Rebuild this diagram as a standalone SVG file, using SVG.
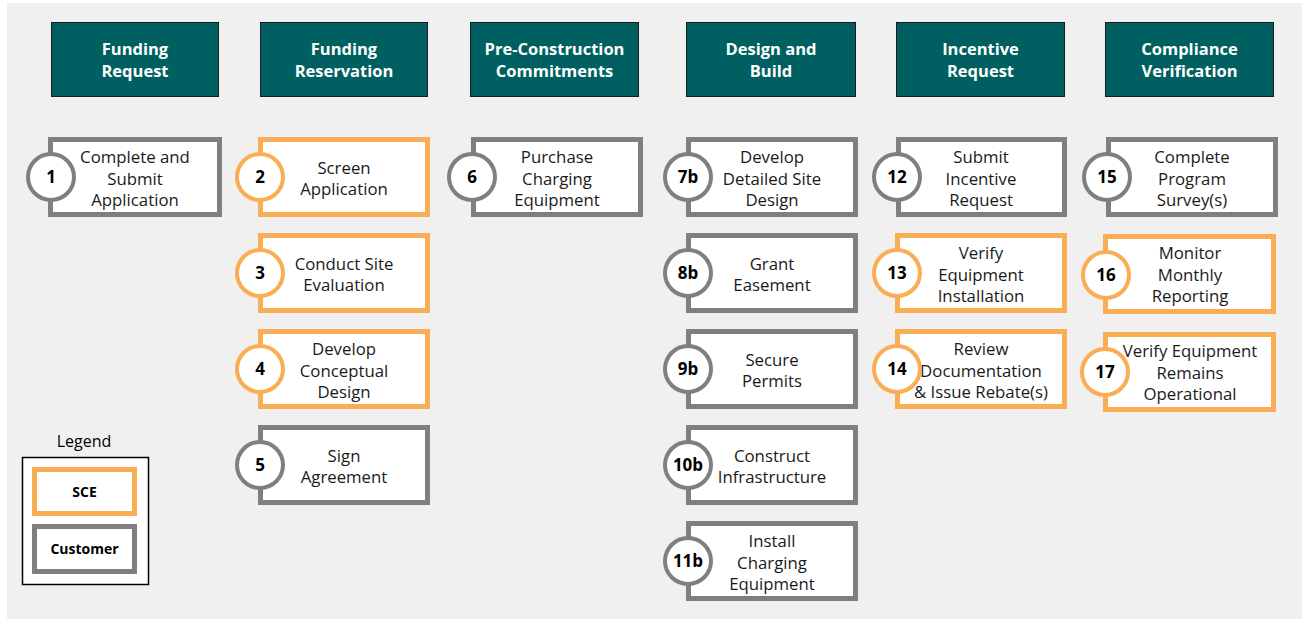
<svg xmlns="http://www.w3.org/2000/svg" width="1302" height="619" viewBox="0 0 1302 619">
  <style>
    .bg { fill: #f0f0f0; }
    .hdr rect { fill: #005f60; stroke: #1a1a1a; stroke-width: 1; }
    .hdr text { fill: #ffffff; font-family: "Open Sans", "Noto Sans", sans-serif; font-weight: 700; font-size: 16.5px; text-anchor: middle; }
    .step rect { fill: #ffffff; stroke-width: 5; }
    .step circle { fill: #ffffff; stroke-width: 4; }
    .step text { fill: #1a1a1a; font-family: "Open Sans", "Noto Sans", sans-serif; font-size: 16.8px; text-anchor: middle; }
    .step text.num { font-weight: 700; font-size: 17px; fill: #000000; }
    .sce rect, .sce circle { stroke: #f9ad55; }
    .cust rect, .cust circle { stroke: #7f7f7f; }
    .legend text { font-family: "Open Sans", "Noto Sans", sans-serif; text-anchor: middle; fill: #000000; }
  </style>

  <rect class="bg" x="7" y="3" width="1295" height="616"/>

  <!-- phase headers -->
  <g id="hdr-funding-request" class="hdr"><rect x="51.5" y="22.5" width="167" height="74"/><text x="135" y="55">Funding</text><text x="135" y="77">Request</text></g>
  <g id="hdr-funding-reservation" class="hdr"><rect x="260.5" y="22.5" width="167" height="74"/><text x="344" y="55">Funding</text><text x="344" y="77">Reservation</text></g>
  <g id="hdr-pre-construction" class="hdr"><rect x="470.5" y="22.5" width="168" height="74"/><text x="554.5" y="55">Pre-Construction</text><text x="554.5" y="77">Commitments</text></g>
  <g id="hdr-design-build" class="hdr"><rect x="686.5" y="22.5" width="169" height="74"/><text x="771" y="55">Design and</text><text x="771" y="77">Build</text></g>
  <g id="hdr-incentive" class="hdr"><rect x="896.5" y="22.5" width="168" height="74"/><text x="980.5" y="55">Incentive</text><text x="980.5" y="77">Request</text></g>
  <g id="hdr-compliance" class="hdr"><rect x="1105.5" y="22.5" width="168" height="74"/><text x="1189.5" y="55">Compliance</text><text x="1189.5" y="77">Verification</text></g>

  <!-- process steps: box, label, then badge drawn on top -->
  <g id="step-1" class="step cust"><rect x="50.5" y="139.5" width="169" height="75"/><text x="135" y="163">Complete and</text><text x="135" y="184.5">Submit</text><text x="135" y="206">Application</text><circle cx="51" cy="177" r="23"/><text class="num" x="51" y="183">1</text></g>

  <g id="step-2" class="step sce"><rect x="260.5" y="139.5" width="167" height="75"/><text x="344" y="174">Screen</text><text x="344" y="195">Application</text><circle cx="260" cy="177" r="23"/><text class="num" x="260" y="183">2</text></g>
  <g id="step-3" class="step sce"><rect x="260.5" y="235.5" width="167" height="75"/><text x="344" y="270">Conduct Site</text><text x="344" y="291">Evaluation</text><circle cx="260" cy="273" r="23"/><text class="num" x="260" y="279">3</text></g>
  <g id="step-4" class="step sce"><rect x="260.5" y="331.5" width="167" height="75"/><text x="344" y="355">Develop</text><text x="344" y="376.5">Conceptual</text><text x="344" y="398">Design</text><circle cx="260" cy="369" r="23"/><text class="num" x="260" y="375">4</text></g>
  <g id="step-5" class="step cust"><rect x="260.5" y="427.5" width="167" height="75"/><text x="344" y="462">Sign</text><text x="344" y="483">Agreement</text><circle cx="260" cy="465" r="23"/><text class="num" x="260" y="471">5</text></g>

  <g id="step-6" class="step cust"><rect x="473.5" y="139.5" width="167" height="75"/><text x="557" y="163">Purchase</text><text x="557" y="184.5">Charging</text><text x="557" y="206">Equipment</text><circle cx="472" cy="177" r="23"/><text class="num" x="472" y="183">6</text></g>

  <g id="step-7b" class="step cust"><rect x="688.5" y="139.5" width="167" height="75"/><text x="772" y="163">Develop</text><text x="772" y="184.5">Detailed Site</text><text x="772" y="206">Design</text><circle cx="688" cy="177" r="23"/><text class="num" x="688" y="183">7b</text></g>
  <g id="step-8b" class="step cust"><rect x="688.5" y="235.5" width="167" height="75"/><text x="772" y="270">Grant</text><text x="772" y="291">Easement</text><circle cx="688" cy="273" r="23"/><text class="num" x="688" y="279">8b</text></g>
  <g id="step-9b" class="step cust"><rect x="688.5" y="331.5" width="167" height="75"/><text x="772" y="366">Secure</text><text x="772" y="387">Permits</text><circle cx="688" cy="369" r="23"/><text class="num" x="688" y="375">9b</text></g>
  <g id="step-10b" class="step cust"><rect x="688.5" y="427.5" width="167" height="75"/><text x="772" y="462">Construct</text><text x="772" y="483">Infrastructure</text><circle cx="688" cy="465" r="23"/><text class="num" x="688" y="471">10b</text></g>
  <g id="step-11b" class="step cust"><rect x="688.5" y="523.5" width="167" height="75"/><text x="772" y="547">Install</text><text x="772" y="568.5">Charging</text><text x="772" y="590">Equipment</text><circle cx="688" cy="561" r="23"/><text class="num" x="688" y="567">11b</text></g>

  <g id="step-12" class="step cust"><rect x="898.5" y="139.5" width="166" height="75"/><text x="981" y="163">Submit</text><text x="981" y="184.5">Incentive</text><text x="981" y="206">Request</text><circle cx="897" cy="177" r="23"/><text class="num" x="897" y="183">12</text></g>
  <g id="step-13" class="step sce"><rect x="897.5" y="235.5" width="167" height="75"/><text x="981" y="259">Verify</text><text x="981" y="280.5">Equipment</text><text x="981" y="302">Installation</text><circle cx="897" cy="273" r="23"/><text class="num" x="897" y="279">13</text></g>
  <g id="step-14" class="step sce"><rect x="897.5" y="331.5" width="167" height="75"/><text x="981" y="355">Review</text><text x="981" y="376.5">Documentation</text><text x="981" y="398">&amp; Issue Rebate(s)</text><circle cx="897" cy="369" r="23"/><text class="num" x="897" y="375">14</text></g>

  <g id="step-15" class="step cust"><rect x="1108.5" y="139.5" width="167" height="75"/><text x="1192" y="163">Complete</text><text x="1192" y="184.5">Program</text><text x="1192" y="206">Survey(s)</text><circle cx="1107" cy="177" r="23"/><text class="num" x="1107" y="183">15</text></g>
  <g id="step-16" class="step sce"><rect x="1105.5" y="236.5" width="168" height="75"/><text x="1190" y="259">Monitor</text><text x="1190" y="280.5">Monthly</text><text x="1190" y="302">Reporting</text><circle cx="1106" cy="275" r="23"/><text class="num" x="1106" y="281">16</text></g>
  <g id="step-17" class="step sce"><rect x="1105.5" y="334.5" width="168" height="75"/><text x="1190" y="357">Verify Equipment</text><text x="1190" y="378.5">Remains</text><text x="1190" y="400">Operational</text><circle cx="1105" cy="372" r="23"/><text class="num" x="1105" y="378">17</text></g>

  <!-- connectors: none drawn -->
  <g id="connectors"/>

  <!-- legend -->
  <g id="legend" class="legend">
    <text x="84" y="447" font-size="16">Legend</text>
    <rect x="22.5" y="457.5" width="126" height="127" fill="#ffffff" stroke="#000000" stroke-width="1.5"/>
    <rect x="34.5" y="469.5" width="100" height="44" fill="#ffffff" stroke="#f9ad55" stroke-width="5"/>
    <text x="84.5" y="497" font-size="14" font-weight="700">SCE</text>
    <rect x="34.5" y="526.5" width="100" height="45" fill="#ffffff" stroke="#7f7f7f" stroke-width="5"/>
    <text x="84.5" y="554" font-size="14" font-weight="700">Customer</text>
  </g>
</svg>
